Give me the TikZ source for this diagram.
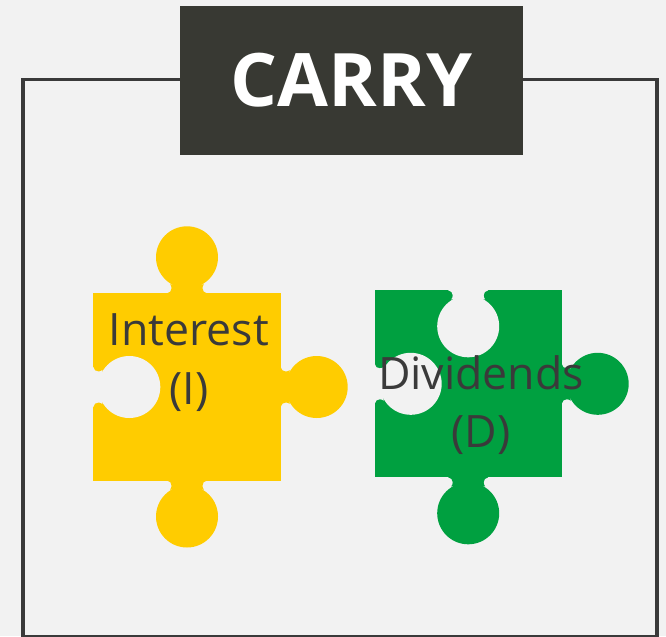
\documentclass[tikz,border=0pt]{standalone}
\usepackage{fontspec}
\setmainfont{Open Sans}
\usepackage{xcolor}
\definecolor{pagebg}{HTML}{F2F2F2}
\definecolor{darkbox}{HTML}{383933}
\definecolor{textdark}{HTML}{3A3A3A}
\definecolor{yellowpiece}{HTML}{FFCC00}
\definecolor{greenpiece}{HTML}{00A040}
\usetikzlibrary{positioning}

\begin{document}
\begin{tikzpicture}[
  x=0.02cm, y=-0.02cm,
  frameline/.style={draw=textdark, line width=2.1pt},
  titlebox/.style={rectangle, fill=darkbox, text=white, minimum width=6.86cm, minimum height=2.98cm, inner sep=0pt, font=\fontsize{42}{48}\selectfont\bfseries},
  label/.style={align=center, text=textdark, inner sep=0pt, font=\fontsize{25.4}{33.5}\selectfont},
  pics/tab/.style={code={
    \fill[#1] (-20,-1) -- (-20,0) .. controls (-17,0) and (-15.5,3) .. (-15.5,5) .. controls (-15.5,7) and (-16,8) .. (-17,9) -- (17,9) .. controls (16,8) and (15.5,7) .. (15.5,5) .. controls (15.5,3) and (17,0) .. (20,0) -- (20,-1) -- cycle;
    \fill[#1] (0,36) circle [radius=31];
  }}
]
\useasboundingbox (0,0) rectangle (666,636);
\fill[pagebg] (0,0) rectangle (666,636);
\draw[frameline] (23,636.5) -- (23,79.5) -- (657,79.5) -- (657,636.5) -- cycle;
\node[titlebox] (title) at (351.5,80.5) {CARRY};
% yellow piece
\fill[yellowpiece] (93.3,293.3) rectangle (280.7,480.5);
\pic[rotate=180] at (187,293.3) {tab=yellowpiece};
\pic at (187,480.5) {tab=yellowpiece};
\pic[rotate=90] at (280.7,387) {tab=yellowpiece};
\pic[rotate=90] at (93.3,387) {tab=pagebg};
% green piece
\fill[greenpiece] (374.7,290.3) rectangle (561.7,477.3);
\pic at (468.2,290.3) {tab=pagebg};
\pic at (468.2,477.3) {tab=greenpiece};
\pic[rotate=90] at (561.7,383.8) {tab=greenpiece};
\pic[rotate=90] at (374.7,383.8) {tab=pagebg};
\node[label] (interest) at (189,363) {Interest\\(I)};
\node[label] (dividends) at (481,405) {Dividends\\(D)};
\end{tikzpicture}
\end{document}
